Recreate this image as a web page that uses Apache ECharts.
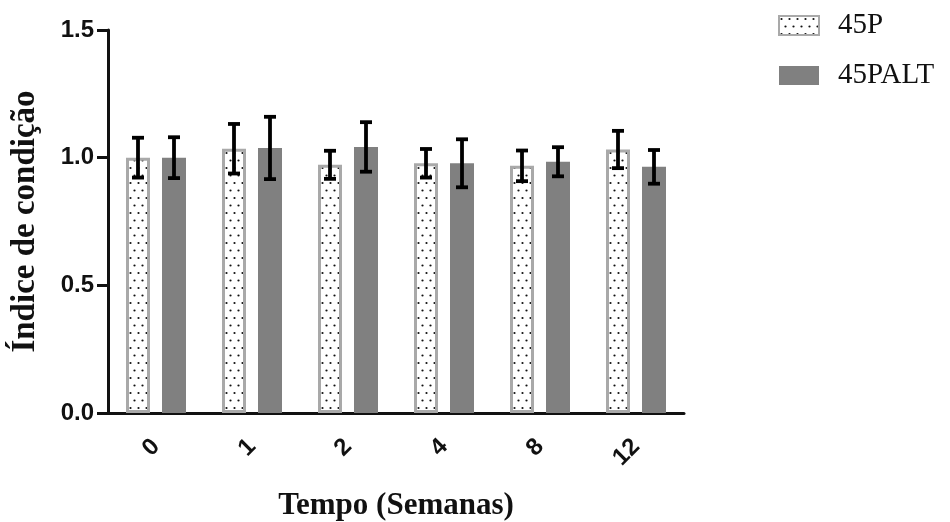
<!DOCTYPE html>
<html>
<head>
<meta charset="utf-8">
<script src="https://cdn.jsdelivr.net/npm/echarts@6/dist/echarts.min.js"></script>
<style>
  html, body { margin: 0; padding: 0; background: #fff; }
  #chart { width: 950px; height: 522px; }
</style>
</head>
<body>
<div id="chart"></div>
<script>
// Weeks of treatment
var weeks = ['0', '1', '2', '4', '8', '12'];
// Mean condition index per group
var mean45P    = [1.00, 1.035, 0.972, 0.978, 0.968, 1.032];
var mean45PALT = [1.00, 1.038, 1.042, 0.978, 0.984, 0.964];
// Standard deviation per group
var sd45P      = [0.078, 0.097, 0.055, 0.056, 0.060, 0.073];
var sd45PALT   = [0.080, 0.122, 0.097, 0.094, 0.057, 0.066];
var yTicks = [0, 0.5, 1.0, 1.5];

// Dotted fill for the 45P bars
function dotPattern() {
  var c = document.createElement('canvas');
  c.width = 8; c.height = 15;
  var g = c.getContext('2d');
  g.fillStyle = '#ffffff';
  g.fillRect(0, 0, 8, 15);
  g.fillStyle = '#111111';
  g.beginPath(); g.arc(2.5, 3, 1.1, 0, Math.PI * 2); g.fill();
  g.beginPath(); g.arc(6.5, 10.5, 1.1, 0, Math.PI * 2); g.fill();
  return c;
}

var BAR_W = 24;
var BAR_OFFSET = 18; // half of bar width plus half of the gap between the pair

function errorSeries(means, sds, shift) {
  var data = means.map(function (m, i) { return [i, m - sds[i], m + sds[i]]; });
  return {
    type: 'custom',
    z: 10,
    silent: true,
    data: data,
    encode: { x: 0, y: [1, 2] },
    renderItem: function (params, api) {
      var lo = api.coord([api.value(0), api.value(1)]);
      var hi = api.coord([api.value(0), api.value(2)]);
      var x = lo[0] + shift;
      var cap = 6;
      var st = { stroke: '#000', lineWidth: 3.8 };
      return {
        type: 'group',
        children: [
          { type: 'line', shape: { x1: x, y1: hi[1], x2: x, y2: lo[1] }, style: st },
          { type: 'line', shape: { x1: x - cap, y1: hi[1], x2: x + cap, y2: hi[1] }, style: st },
          { type: 'line', shape: { x1: x - cap, y1: lo[1], x2: x + cap, y2: lo[1] }, style: st }
        ]
      };
    }
  };
}

var chart = echarts.init(document.getElementById('chart'), null, { renderer: 'canvas' });
chart.setOption({
  backgroundColor: '#ffffff',
  animation: false,
  grid: { left: 108, right: 266, top: 30, bottom: 109, containLabel: false, outerBoundsMode: 'none' },
  legend: {
    orient: 'vertical',
    left: 773,
    top: 6,
    itemWidth: 40,
    itemHeight: 19,
    itemGap: 21,
    icon: 'rect',
    textStyle: { fontFamily: 'Liberation Serif', fontSize: 29, color: '#111', padding: [0, 0, 0, 14] },
    data: ['45P', '45PALT']
  },
  xAxis: {
    type: 'category',
    data: weeks,
    name: 'Tempo (Semanas)',
    nameLocation: 'middle',
    nameGap: 77,
    nameTextStyle: { fontFamily: 'Liberation Serif', fontWeight: 'bold', fontSize: 31, color: '#111' },
    axisLine: { lineStyle: { color: '#111', width: 3 } },
    axisTick: { alignWithLabel: true, length: 9, lineStyle: { color: '#111', width: 3 } },
    axisLabel: { rotate: 45, margin: 30, fontFamily: 'Liberation Sans', fontWeight: 'bold', fontSize: 24, color: '#111' },
    splitLine: { show: false }
  },
  yAxis: {
    type: 'value',
    min: yTicks[0],
    max: yTicks[yTicks.length - 1],
    interval: 0.5,
    name: 'Índice de condição',
    nameLocation: 'middle',
    nameGap: 66,
    nameTextStyle: { fontFamily: 'Liberation Serif', fontWeight: 'bold', fontSize: 33, color: '#111' },
    axisLine: { show: true, lineStyle: { color: '#111', width: 3 } },
    axisTick: { show: true, length: 11, lineStyle: { color: '#111', width: 3 } },
    axisLabel: {
      margin: 14, fontFamily: 'Liberation Sans', fontWeight: 'bold', fontSize: 24, color: '#111',
      formatter: function (v) { return v.toFixed(1); }
    },
    splitLine: { show: false }
  },
  series: [
    {
      name: '45P',
      type: 'bar',
      data: mean45P,
      barWidth: BAR_W,
      barGap: '50%',
      itemStyle: {
        color: { image: dotPattern(), repeat: 'repeat' },
        borderColor: '#a9a9a9',
        borderWidth: 3
      }
    },
    {
      name: '45PALT',
      type: 'bar',
      data: mean45PALT,
      barWidth: BAR_W,
      barGap: '50%',
      itemStyle: { color: '#808080' }
    },
    errorSeries(mean45P, sd45P, -BAR_OFFSET),
    errorSeries(mean45PALT, sd45PALT, BAR_OFFSET)
  ]
});
</script>
</body>
</html>
